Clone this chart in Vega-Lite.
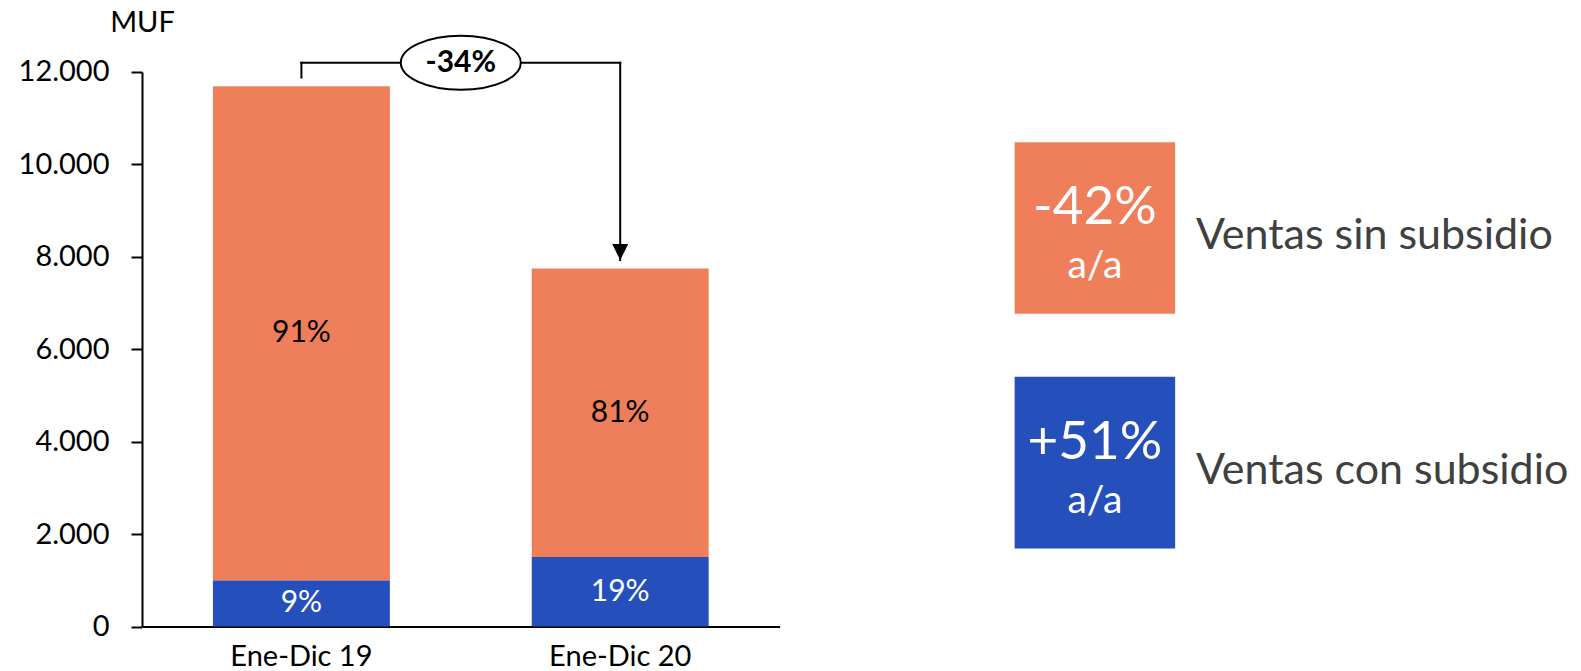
{
  "$schema": "https://vega.github.io/schema/vega-lite/v6.json",
  "background": "white",
  "padding": {"left": 18, "top": 9, "right": 5, "bottom": 0},
  "config": {
    "font": "Lato",
    "view": {"stroke": null},
    "concat": {"spacing": 20}
  },
  "datasets": {
    "ventas": [
      {"periodo": "Ene-Dic 19", "tipo": "Ventas sin subsidio", "valor": 10690, "etiqueta": "91%"},
      {"periodo": "Ene-Dic 19", "tipo": "Ventas con subsidio", "valor": 1000, "etiqueta": "9%"},
      {"periodo": "Ene-Dic 20", "tipo": "Ventas sin subsidio", "valor": 6242, "etiqueta": "81%"},
      {"periodo": "Ene-Dic 20", "tipo": "Ventas con subsidio", "valor": 1508, "etiqueta": "19%"}
    ],
    "cambio": [
      {"i_inicio": 0, "i_fin": 1, "base": 11880, "nivel": 12200, "punta": 7930, "texto": "-34%"}
    ],
    "resumen": [
      {"serie": "Ventas sin subsidio", "variacion": "-42%", "unidad": "a/a"},
      {"serie": "Ventas con subsidio", "variacion": "+51%", "unidad": "a/a"}
    ]
  },
  "hconcat": [
    {
      "width": 637.6,
      "height": 554.6,
      "resolve": {"scale": {"x": "independent"}},
      "layer": [
        {
          "data": {"name": "ventas"},
          "encoding": {
            "x": {
              "field": "periodo",
              "type": "nominal",
              "sort": ["Ene-Dic 19", "Ene-Dic 20"],
              "scale": {"paddingInner": 0.445, "paddingOuter": 0.2225},
              "axis": {
                "title": null,
                "labelAngle": 0,
                "labelFontSize": 29,
                "labelColor": "black",
                "labelPadding": 16,
                "ticks": false,
                "domainColor": "black",
                "domainWidth": 2
              }
            }
          },
          "layer": [
            {
              "mark": {"type": "bar"},
              "encoding": {
                "y": {
                  "field": "valor",
                  "type": "quantitative",
                  "stack": "zero",
                  "scale": {"domain": [0, 12000], "nice": false},
                  "axis": {
                    "values": [0, 2000, 4000, 6000, 8000, 10000, 12000],
                    "labelExpr": "replace(format(datum.value, ',d'), ',', '.')",
                    "grid": false,
                    "domainColor": "black",
                    "domainWidth": 2,
                    "tickColor": "black",
                    "tickWidth": 2,
                    "tickSize": 11,
                    "labelFontSize": 29,
                    "labelColor": "black",
                    "labelPadding": 22,
                    "title": "MUF",
                    "titleAngle": 0,
                    "titleFontSize": 29,
                    "titleFontWeight": "normal",
                    "titleColor": "black",
                    "titleX": 0,
                    "titleY": -49,
                    "titleAlign": "center",
                    "titleBaseline": "middle"
                  }
                },
                "color": {
                  "field": "tipo",
                  "type": "nominal",
                  "scale": {
                    "domain": ["Ventas sin subsidio", "Ventas con subsidio"],
                    "range": ["#EF7F5B", "#254FBB"]
                  },
                  "legend": null
                },
                "order": {"field": "tipo", "sort": "ascending"}
              }
            },
            {
              "transform": [
                {"stack": "valor", "groupby": ["periodo"], "sort": [{"field": "tipo", "order": "ascending"}], "as": ["tramo_ini", "tramo_fin"]},
                {"calculate": "(datum.tramo_ini + datum.tramo_fin) / 2", "as": "centro"}
              ],
              "mark": {"type": "text", "fontSize": 30, "baseline": "middle", "align": "center"},
              "encoding": {
                "y": {"field": "centro", "type": "quantitative", "title": "MUF"},
                "text": {"field": "etiqueta"},
                "color": {
                  "condition": {"test": "datum.tipo === 'Ventas con subsidio'", "value": "white"},
                  "value": "black"
                }
              }
            }
          ]
        },
        {
          "data": {"name": "cambio"},
          "layer": [
            {
              "mark": {"type": "rule", "color": "black", "strokeWidth": 2, "strokeCap": "square"},
              "encoding": {
                "x": {"field": "i_inicio", "type": "quantitative", "scale": {"domain": [-0.5, 1.5], "nice": false, "zero": false}, "axis": null},
                "y": {"field": "base", "type": "quantitative", "title": "MUF"},
                "y2": {"field": "nivel"}
              }
            },
            {
              "mark": {"type": "rule", "color": "black", "strokeWidth": 2, "strokeCap": "square"},
              "encoding": {
                "x": {"field": "i_inicio", "type": "quantitative"},
                "x2": {"field": "i_fin"},
                "y": {"field": "nivel", "type": "quantitative", "title": "MUF"}
              }
            },
            {
              "mark": {"type": "rule", "color": "black", "strokeWidth": 2, "strokeCap": "square"},
              "encoding": {
                "x": {"field": "i_fin", "type": "quantitative"},
                "y": {"field": "nivel", "type": "quantitative", "title": "MUF"},
                "y2": {"field": "punta"}
              }
            },
            {
              "mark": {
                "type": "point",
                "shape": "M-1,-2L1,-2L0,0Z",
                "size": 256,
                "filled": true,
                "color": "black",
                "opacity": 1
              },
              "encoding": {
                "x": {"field": "i_fin", "type": "quantitative"},
                "y": {"field": "punta", "type": "quantitative", "title": "MUF"}
              }
            },
            {
              "mark": {
                "type": "point",
                "shape": "M-1,0C-1,-0.2485,-0.5523,-0.45,0,-0.45C0.5523,-0.45,1,-0.2485,1,0C1,0.2485,0.5523,0.45,0,0.45C-0.5523,0.45,-1,0.2485,-1,0Z",
                "size": 14400,
                "filled": true,
                "fill": "white",
                "stroke": "black",
                "strokeWidth": 2,
                "opacity": 1
              },
              "encoding": {
                "x": {"datum": 0.5, "type": "quantitative"},
                "y": {"field": "nivel", "type": "quantitative", "title": "MUF"}
              }
            },
            {
              "mark": {"type": "text", "fontSize": 30, "fontWeight": "bold", "color": "black", "align": "center", "baseline": "middle"},
              "encoding": {
                "x": {"datum": 0.5, "type": "quantitative"},
                "y": {"field": "nivel", "type": "quantitative", "title": "MUF"},
                "text": {"field": "texto"}
              }
            }
          ]
        }
      ]
    },
    {
      "width": 589.8,
      "height": 554.6,
      "data": {"name": "resumen"},
      "encoding": {
        "y": {
          "field": "serie",
          "type": "nominal",
          "scale": {
            "type": "point",
            "domain": ["Ventas sin subsidio", "Ventas con subsidio"],
            "padding": 0.682,
            "align": 0.4875
          },
          "axis": null
        }
      },
      "layer": [
        {
          "mark": {
            "type": "point",
            "shape": "M-1,-1.07L1,-1.07L1,1.07L-1,1.07Z",
            "size": 25760,
            "filled": true,
            "opacity": 1
          },
          "encoding": {
            "color": {
              "field": "serie",
              "type": "nominal",
              "scale": {
                "domain": ["Ventas sin subsidio", "Ventas con subsidio"],
                "range": ["#EF7F5B", "#254FBB"]
              },
              "legend": null
            }
          }
        },
        {
          "mark": {"type": "text", "fontSize": 53, "color": "white", "align": "center", "baseline": "alphabetic", "dy": -4},
          "encoding": {"text": {"field": "variacion"}}
        },
        {
          "mark": {"type": "text", "fontSize": 39, "color": "white", "align": "center", "baseline": "alphabetic", "dy": 50},
          "encoding": {"text": {"field": "unidad"}}
        },
        {
          "mark": {"type": "text", "fontSize": 43, "color": "#404040", "align": "left", "baseline": "alphabetic", "dx": 101, "dy": 21},
          "encoding": {"text": {"field": "serie"}}
        }
      ]
    }
  ]
}
